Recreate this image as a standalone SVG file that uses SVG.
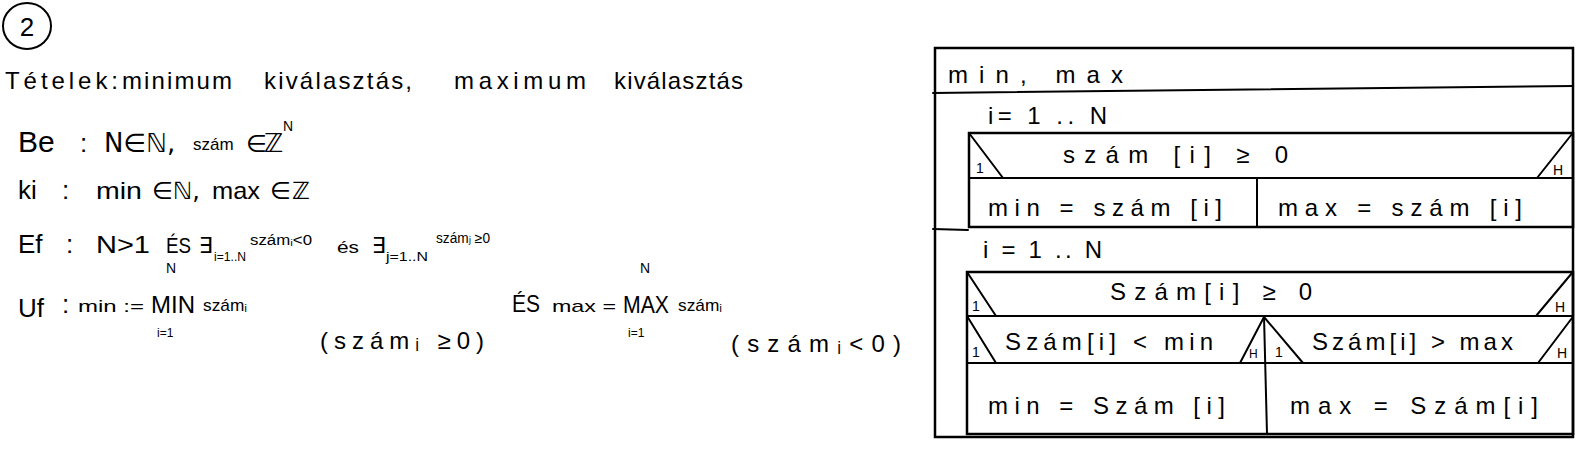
<svg xmlns="http://www.w3.org/2000/svg" width="1589" height="467" viewBox="0 0 1589 467">
<style>
.t{font-family:"Liberation Sans","DejaVu Sans",sans-serif;fill:#000;}
.s{font-family:"DejaVu Sans","Liberation Sans",sans-serif;fill:#000;}
.ln{stroke:#000;stroke-width:2;fill:none;stroke-linecap:round;}
.bx{stroke:#000;stroke-width:2.5;fill:none;}
.f24{font-size:24px;}
.f26{font-size:26px;}
.f22{font-size:22px;}
.f20{font-size:20px;}
.f18{font-size:17px;}
.f14{font-size:14px;}
.f12{font-size:12px;}
</style>
<rect width="1589" height="467" fill="#fff"/>
<g id="heading">
<ellipse cx="27" cy="26" rx="24" ry="23" class="ln"/>
<text x="27" y="36" class="t f26" text-anchor="middle">2</text>
<text y="89" class="t f24"><tspan x="5" textLength="113" lengthAdjust="spacing">Tételek:</tspan><tspan x="122" textLength="110" lengthAdjust="spacing">minimum</tspan><tspan x="264" textLength="148" lengthAdjust="spacing">kiválasztás,</tspan><tspan x="454" textLength="132" lengthAdjust="spacing">maximum</tspan><tspan x="614" textLength="129" lengthAdjust="spacing">kiválasztás</tspan></text>
</g>
<g id="be">
<text x="18" y="152" class="t" font-size="30">Be</text>
<text x="80" y="152" class="t f26">:</text>
<text x="104" y="152" class="s f26">N∈ℕ,</text>
<text x="193" y="150" class="t f18">szám</text>
<text x="246" y="152" class="s f24">∈</text>
<text x="264" y="152" class="s f26">ℤ</text>
<text x="283" y="131" class="t f14">N</text>
</g>
<g id="ki">
<text x="18" y="199" class="t f26">ki</text>
<text x="62" y="199" class="t f26">:</text>
<text x="96" y="199" class="t f24" textLength="46" lengthAdjust="spacingAndGlyphs">min</text>
<text x="152" y="199" class="s f24">∈ℕ,</text>
<text x="212" y="199" class="t f24" textLength="48" lengthAdjust="spacingAndGlyphs">max</text>
<text x="270" y="199" class="s f24">∈</text>
<text x="292" y="199" class="s f24">ℤ</text>
</g>
<g id="ef">
<text x="18" y="253" class="t f26">Ef</text>
<text x="66" y="253" class="t f26">:</text>
<text x="96" y="253" class="t f24" textLength="54" lengthAdjust="spacingAndGlyphs">N&gt;1</text>
<text x="166" y="253" class="t f22" textLength="25" lengthAdjust="spacingAndGlyphs">ÉS</text>
<text x="199" y="253" class="s f22">∃</text>
<text x="214" y="261" class="t f12" textLength="32" lengthAdjust="spacingAndGlyphs">i=1..N</text>
<text x="250" y="245" class="t f14" textLength="62" lengthAdjust="spacingAndGlyphs">számᵢ&lt;0</text>
<text x="337" y="253" class="t f18" textLength="22" lengthAdjust="spacingAndGlyphs">és</text>
<text x="372" y="253" class="s f22">∃</text>
<text x="386" y="261" class="t f12" textLength="42" lengthAdjust="spacingAndGlyphs">j=1..N</text>
<text x="436" y="243" class="t f14" textLength="54" lengthAdjust="spacingAndGlyphs">számⱼ ≥0</text>
</g>
<g id="uf">
<text x="18" y="317" class="t f26">Uf</text>
<text x="62" y="313" class="t f26">:</text>
<text x="78" y="312" class="t f18" textLength="66" lengthAdjust="spacingAndGlyphs">min :=</text>
<text x="151" y="313" class="t f24" textLength="44" lengthAdjust="spacingAndGlyphs">MIN</text>
<text x="166" y="273" class="t f14">N</text>
<text x="157" y="337" class="t f12">i=1</text>
<text x="203" y="311" class="t f18" textLength="44" lengthAdjust="spacingAndGlyphs">számᵢ</text>
<text x="320" y="349" class="t f24" textLength="164" lengthAdjust="spacing">(számᵢ ≥0)</text>
<text x="512" y="312" class="t f24" textLength="28" lengthAdjust="spacingAndGlyphs">ÉS</text>
<text x="552" y="312" class="t f18" textLength="64" lengthAdjust="spacingAndGlyphs">max =</text>
<text x="623" y="313" class="t f24" textLength="46" lengthAdjust="spacingAndGlyphs">MAX</text>
<text x="640" y="273" class="t f14">N</text>
<text x="628" y="337" class="t f12">i=1</text>
<text x="678" y="311" class="t f18" textLength="44" lengthAdjust="spacingAndGlyphs">számᵢ</text>
<text x="731" y="352" class="t f24" textLength="170" lengthAdjust="spacing">(számᵢ&lt;0)</text>
</g>
<g id="structogram">
<g id="outer">
<rect x="935" y="48" width="638" height="389" class="bx"/>
<line x1="933" y1="93" x2="1573" y2="86" class="ln"/>
<text x="948" y="83" class="t f24" textLength="175" lengthAdjust="spacing">min, max</text>
</g>
<g id="loop1">
<text x="988" y="124" class="t f24" textLength="119" lengthAdjust="spacing">i= 1 .. N</text>
</g>
<g id="if1">
<rect x="969" y="133" width="604" height="94" class="bx"/>
<line x1="969" y1="178" x2="1573" y2="178" class="ln"/>
<line x1="969" y1="133" x2="1003" y2="178" class="ln"/>
<line x1="1572" y1="134" x2="1537" y2="178" class="ln"/>
<line x1="1257" y1="178" x2="1257" y2="227" class="ln"/>
<text x="976" y="173" class="t f14">1</text>
<text x="1553" y="175" class="t f14">H</text>
<text x="1063" y="163" class="t f24" textLength="225" lengthAdjust="spacing">szám [i] ≥ 0</text>
<text x="988" y="216" class="t f24" textLength="234" lengthAdjust="spacing">min = szám [i]</text>
<text x="1278" y="216" class="t f24" textLength="244" lengthAdjust="spacing">max = szám [i]</text>
</g>
<g id="loop2">
<line x1="933" y1="229" x2="968" y2="230" class="ln"/>
<text x="983" y="258" class="t f24" textLength="119" lengthAdjust="spacing">i = 1 .. N</text>
</g>
<g id="if2">
<rect x="967" y="272" width="606" height="162" class="bx"/>
<line x1="967" y1="316" x2="1573" y2="316" class="ln"/>
<line x1="967" y1="272" x2="996" y2="316" class="ln"/>
<line x1="1572" y1="273" x2="1536" y2="316" class="ln"/>
<text x="972" y="311" class="t f14">1</text>
<text x="1555" y="312" class="t f14">H</text>
<text x="1110" y="300" class="t f24" textLength="202" lengthAdjust="spacing">Szám[i] ≥ 0</text>
</g>
<g id="if2a">
<line x1="967" y1="363" x2="1573" y2="363" class="ln"/>
<line x1="1264" y1="316" x2="1267" y2="434" class="ln"/>
<line x1="967" y1="316" x2="996" y2="363" class="ln"/>
<line x1="1264" y1="317" x2="1240" y2="363" class="ln"/>
<text x="972" y="357" class="t f14">1</text>
<text x="1249" y="358" class="t f12">H</text>
<text x="1005" y="350" class="t f24" textLength="208" lengthAdjust="spacing">Szám[i] &lt; min</text>
<text x="988" y="414" class="t f24" textLength="237" lengthAdjust="spacing">min = Szám [i]</text>
</g>
<g id="if2b">
<line x1="1264" y1="317" x2="1303" y2="363" class="ln"/>
<line x1="1572" y1="318" x2="1538" y2="363" class="ln"/>
<text x="1275" y="357" class="t f14">1</text>
<text x="1557" y="358" class="t f14">H</text>
<text x="1312" y="350" class="t f24" textLength="201" lengthAdjust="spacing">Szám[i] &gt; max</text>
<text x="1290" y="414" class="t f24" textLength="248" lengthAdjust="spacing">max = Szám[i]</text>
</g>
</g>
</svg>
